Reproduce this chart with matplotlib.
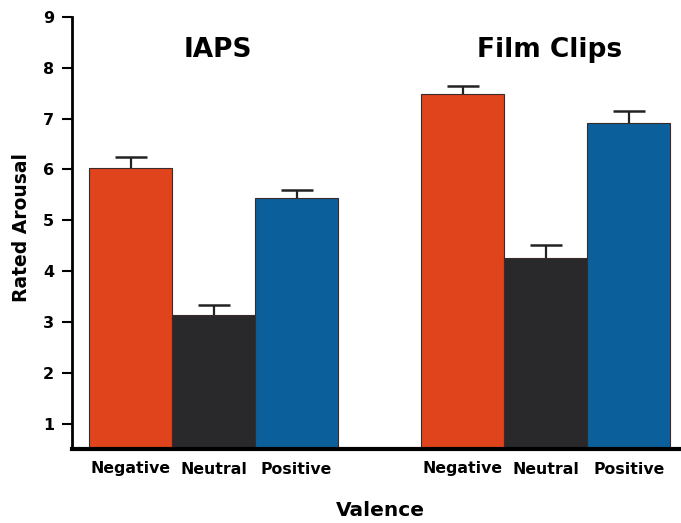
import matplotlib
matplotlib.use("Agg")
import matplotlib.pyplot as plt
import numpy as np

plt.rcParams['font.family'] = ['DejaVu Sans']

groups = ["IAPS", "Film Clips"]
categories = ["Negative", "Neutral", "Positive"]
means = {
    "IAPS": [6.02, 3.14, 5.44],
    "Film Clips": [7.48, 4.25, 6.91],
}
errors = {
    "IAPS": [0.22, 0.19, 0.15],
    "Film Clips": [0.16, 0.27, 0.24],
}
colors = ["#E0441C", "#29292B", "#0B609B"]
yticks = [1, 2, 3, 4, 5, 6, 7, 8, 9]

fig = plt.figure(figsize=(6.81, 5.23), dpi=100)
ax = fig.add_axes([72/681, (523-449)/523, (681-72)/681, (449-17)/523])

group_offsets = [0, 4]
xpos_all, labels_all = [], []
for g, off in zip(groups, group_offsets):
    x = np.arange(len(categories)) + off
    m = np.array(means[g])
    e = np.array(errors[g])
    ax.bar(x, m, width=1.0, bottom=0, color=colors,
           edgecolor="#3a2a2a", linewidth=0.8, zorder=2)
    ax.errorbar(x, m, yerr=[np.zeros(len(x)), e], fmt="none",
                ecolor="#222222", elinewidth=1.6, capsize=0, zorder=3)
    ax.plot(x, m + e, linestyle="none", marker="_", markersize=23,
            markeredgewidth=1.8, color="#222222", zorder=3)
    xpos_all.extend(x)
    labels_all.extend(categories)
    ax.text(off + 1.05, 8.35, g, ha="center", va="center",
            fontsize=19, fontweight="bold", color="black")

ax.set_xlim(-0.705, 6.63)
ax.set_ylim(0.5, 9)
ax.set_yticks(yticks)
ax.set_yticklabels([str(t) for t in yticks], fontsize=11.5, fontweight="bold")
ax.set_xticks(xpos_all)
ax.set_xticklabels(labels_all, fontsize=11.3, fontweight="bold")
ax.tick_params(axis="x", length=0, pad=9)
ax.tick_params(axis="y", length=7, width=1.5, pad=6)

for s in ["top", "right"]:
    ax.spines[s].set_visible(False)
ax.spines["left"].set_linewidth(2)
ax.spines["bottom"].set_linewidth(3)
ax.spines["left"].set_bounds(0.5, 9)

fig.text(380/681, 1 - 511/523, "Valence", ha="center", va="center",
         fontsize=14.5, fontweight="bold")
fig.text(22/681, 1 - 228/523, "Rated Arousal", ha="center", va="center",
         rotation=90, fontsize=13.5, fontweight="bold")

fig.savefig("out.png", dpi=100)
